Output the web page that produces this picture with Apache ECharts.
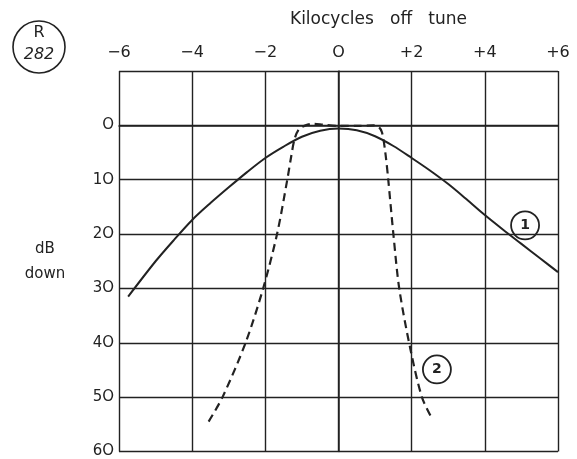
<!DOCTYPE html>
<html>
<head>
    <meta charset="utf-8">
    <title>R282 selectivity</title>
    <script type="text/javascript" src="https://cdn.jsdelivr.net/npm/echarts@6/dist/echarts.min.js"></script>
    <style>
        body { margin: 0; background: #fff; }
    </style>
</head>
<body>
    <div id="main" style="width: 577px;height:459px;"></div>
    <script type="text/javascript">
    // curve 1 (solid): [kc off tune, dB down]
    var curve1 = [
        [-5.75, 31.5], [-5.0, 25.0], [-4.5, 21.1], [-4.0, 17.4], [-3.5, 14.3],
        [-3.0, 11.4], [-2.5, 8.6], [-2.0, 6.0], [-1.5, 3.9], [-1.0, 2.1],
        [-0.5, 1.0], [0, 0.6], [0.5, 0.9], [1.0, 2.0], [1.5, 3.8],
        [2.0, 6.0], [2.5, 8.3], [3.0, 10.8], [3.5, 13.6], [4.0, 16.5],
        [4.5, 19.2], [5.0, 21.8], [5.5, 24.4], [6.0, 27.0]
    ];
    // curve 2 (dashed)
    var curve2 = [
        [-3.55, 54.5], [-3.17, 50.0], [-2.54, 40.0], [-2.06, 30.0], [-1.68, 20.0],
        [-1.4, 10.0], [-1.3, 6.0], [-1.2, 2.5], [-1.08, 0.7], [-0.9, 0.0],
        [-0.7, -0.3], [-0.4, -0.1], [0, 0.1], [0.5, 0.1], [0.95, 0.0],
        [1.1, 0.3], [1.19, 1.3], [1.28, 5.0], [1.36, 10.0], [1.5, 20.0],
        [1.66, 30.0], [1.96, 41.0], [2.28, 50.0], [2.56, 54.0]
    ];
    var xTicks = [-6, -4, -2, 0, 2, 4, 6];
    var yTicks = [0, 10, 20, 30, 40, 50, 60];
    // circled curve numbers, placed in data space
    var tag1 = [5.1, 18.4];
    var tag2 = [2.69, 44.9];

    var ink = '#222';
    var font = 'DejaVu Sans';

    var myChart = echarts.init(document.getElementById('main'));

    function xLabel(v) {
        if (v < 0) return '\u2212' + Math.abs(v);
        if (v > 0) return '+' + v;
        return 'O';
    }

    var option = {
        backgroundColor: '#fff',
        animation: false,
        grid: { left: 119, right: 19, top: 71, bottom: 3 },
        xAxis: {
            type: 'value',
            position: 'top',
            min: -6, max: 6, interval: 2,
            axisLine: { show: true, lineStyle: { color: ink, width: 1.5 } },
            axisTick: { show: false },
            axisLabel: {
                margin: 10, color: ink, fontFamily: font, fontSize: 16,
                formatter: function (v) { return xTicks.indexOf(v) >= 0 ? xLabel(v) : ''; }
            },
            splitLine: { show: true, showMinLine: true, showMaxLine: true, lineStyle: { color: ink, width: 1.4 } }
        },
        yAxis: {
            type: 'value',
            inverse: true,
            min: -10, max: 60, interval: 10,
            name: 'dB\ndown',
            nameLocation: 'middle',
            nameRotate: 0,
            nameGap: 74,
            nameTextStyle: { color: ink, fontFamily: font, fontSize: 15, align: 'center', verticalAlign: 'middle', lineHeight: 25 },
            axisLine: { show: true, lineStyle: { color: ink, width: 1.5 } },
            axisTick: { show: false },
            axisLabel: {
                margin: 5, color: ink, fontFamily: font, fontSize: 15,
                formatter: function (v) {
                    if (yTicks.indexOf(v) < 0) return '';
                    return String(v).replace(/0/g, 'O');
                }
            },
            splitLine: { show: true, showMinLine: true, showMaxLine: true, lineStyle: { color: ink, width: 1.4 } }
        },
        graphic: [
            {
                type: 'text', left: 290, top: 11,
                style: { text: 'Kilocycles   off   tune', fill: ink, font: '17px "DejaVu Sans"' }
            },
            {
                type: 'circle', shape: { cx: 39, cy: 47, r: 26 },
                style: { fill: 'none', stroke: ink, lineWidth: 1.6 }
            },
            {
                type: 'text', x: 39, y: 33,
                style: { text: 'R', fill: ink, font: '16px "DejaVu Sans"', align: 'center', verticalAlign: 'middle' }
            },
            {
                type: 'text', x: 39, y: 55,
                style: { text: '282', fill: ink, font: 'italic 16px "DejaVu Sans"', align: 'center', verticalAlign: 'middle' }
            }
        ],
        series: [
            {
                name: '1',
                type: 'line',
                data: curve1,
                smooth: 0.3,
                showSymbol: false,
                lineStyle: { color: ink, width: 2 },
                markPoint: {
                    symbol: 'circle', symbolSize: 28,
                    itemStyle: { color: 'rgba(255,255,255,0)', borderColor: ink, borderWidth: 1.8 },
                    label: { show: true, formatter: '1', color: ink, fontFamily: font, fontSize: 14, fontWeight: 'bold' },
                    data: [{ coord: tag1 }]
                }
            },
            {
                name: '2',
                type: 'line',
                data: curve2,
                smooth: 0.3,
                showSymbol: false,
                lineStyle: { color: ink, width: 2.2, type: [8, 5] },
                markPoint: {
                    symbol: 'circle', symbolSize: 28,
                    itemStyle: { color: 'rgba(255,255,255,0)', borderColor: ink, borderWidth: 1.8 },
                    label: { show: true, formatter: '2', color: ink, fontFamily: font, fontSize: 14, fontWeight: 'bold' },
                    data: [{ coord: tag2 }]
                }
            }
        ]
    };

    myChart.setOption(option);
    </script>
</body>
</html>
